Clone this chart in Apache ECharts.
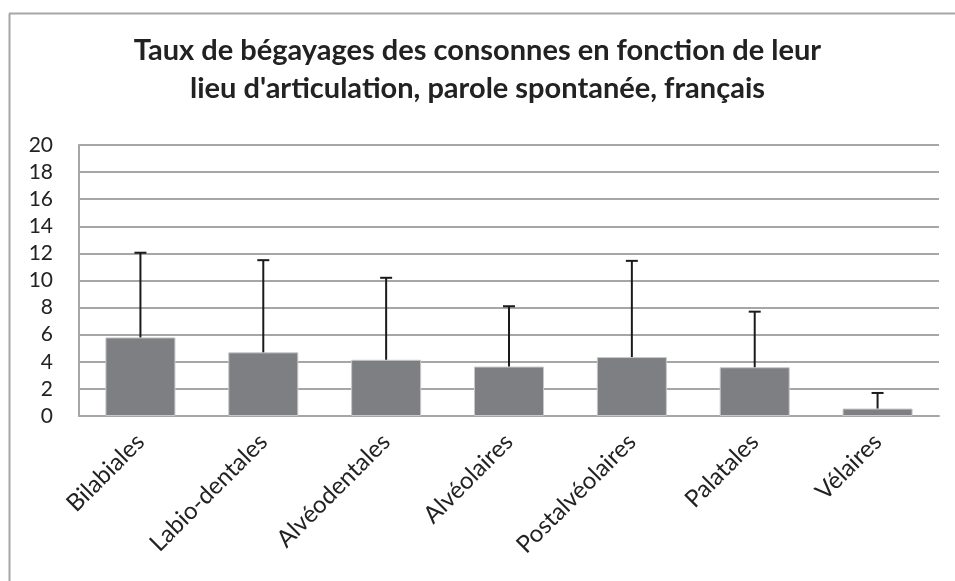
<!DOCTYPE html>
<html>
<head>
<meta charset="utf-8">
<script src="https://cdn.jsdelivr.net/npm/echarts@6/dist/echarts.min.js"></script>
<style>
  html, body { margin: 0; padding: 0; background: #fff; }
  #chart { width: 955px; height: 581px; }
</style>
</head>
<body>
<div id="chart"></div>
<script>
// Stuttering rate per place of articulation (mean and upper error bar)
const categories = ['Bilabiales', 'Labio-dentales', 'Alvéodentales', 'Alvéolaires', 'Postalvéolaires', 'Palatales', 'Vélaires'];
const means = [5.8, 4.7, 4.15, 3.65, 4.35, 3.6, 0.55];
const errorTops = [12.05, 11.5, 10.2, 8.1, 11.45, 7.7, 1.7];
const yTicks = [0, 2, 4, 6, 8, 10, 12, 14, 16, 18, 20];

const chart = echarts.init(document.getElementById('chart'), null, { renderer: 'canvas' });
const fontFamily = 'Lato, "Open Sans", sans-serif';

chart.setOption({
  backgroundColor: '#ffffff',
  animation: false,
  title: {
    text: 'Taux de bégayages des consonnes en fonction de leur\nlieu d\'articulation, parole spontanée, français',
    left: 'center',
    top: 27,
    padding: [5, 0, 5, 26],
    textStyle: {
      fontFamily: fontFamily,
      fontWeight: 'bold',
      fontSize: 29,
      lineHeight: 38,
      color: '#222'
    }
  },
  graphic: [
    // outer frame (left and top edges visible)
    { type: 'line', shape: { x1: 9.5, y1: 13.5, x2: 9.5, y2: 581 }, style: { stroke: '#a6a6a6', lineWidth: 2 } },
    { type: 'line', shape: { x1: 9, y1: 13.5, x2: 955, y2: 13.5 }, style: { stroke: '#a6a6a6', lineWidth: 2 } }
  ],
  grid: { left: 79, right: 16, top: 145, bottom: 165 },
  xAxis: {
    type: 'category',
    data: categories,
    axisLine: { show: true, lineStyle: { color: '#a6a6a6', width: 2 } },
    axisTick: { show: false },
    axisLabel: {
      rotate: 45,
      interval: 0,
      margin: 22,
      fontFamily: fontFamily,
      fontSize: 24,
      color: '#222'
    }
  },
  yAxis: {
    type: 'value',
    min: yTicks[0],
    max: yTicks[yTicks.length - 1],
    interval: yTicks[1] - yTicks[0],
    axisLine: { show: true, lineStyle: { color: '#a6a6a6', width: 2 } },
    axisTick: { show: false },
    splitLine: { lineStyle: { color: '#a6a6a6', width: 2 } },
    axisLabel: {
      margin: 26,
      fontFamily: fontFamily,
      fontSize: 21,
      color: '#222'
    }
  },
  series: [
    {
      type: 'bar',
      data: means,
      barWidth: '57%',
      itemStyle: { color: '#7e7f83', borderColor: '#c8c8c8', borderWidth: 1 },
      z: 2
    },
    {
      type: 'custom',
      z: 3,
      data: categories.map((c, i) => [i, means[i], errorTops[i]]),
      renderItem: function (params, api) {
        const base = api.coord([api.value(0), api.value(1)]);
        const top = api.coord([api.value(0), api.value(2)]);
        const half = 6;
        const style = { stroke: '#1a1a1a', lineWidth: 2 };
        return {
          type: 'group',
          children: [
            { type: 'line', shape: { x1: base[0], y1: base[1], x2: top[0], y2: top[1] }, style: style },
            { type: 'line', shape: { x1: top[0] - half, y1: top[1], x2: top[0] + half, y2: top[1] }, style: style }
          ]
        };
      }
    }
  ]
});
</script>
</body>
</html>
